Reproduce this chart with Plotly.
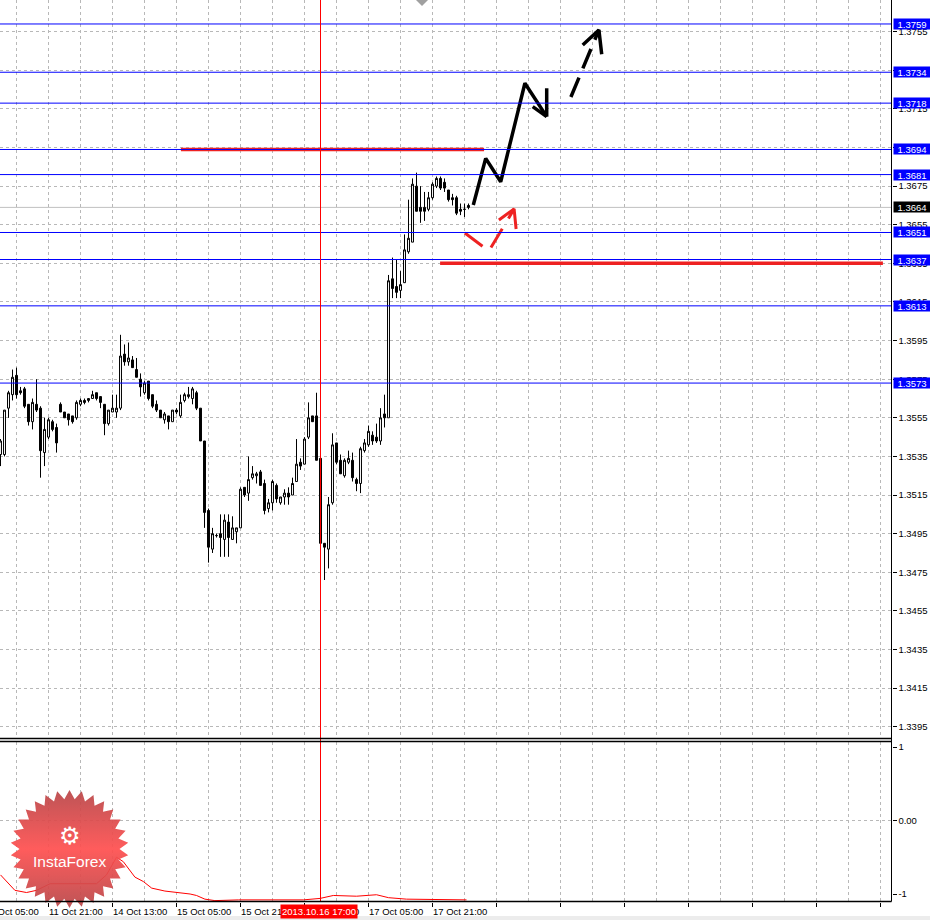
import base64
import numpy as np
import plotly.graph_objects as go

# ---- data --------------------------------------------------------------
# EURUSD H1, bar 0 = 11 Oct 09:00, bar 80 = 2013.10.16 17:00
bar_open = [
    1.3536, 1.3536, 1.3560, 1.3567, 1.3577, 1.3569, 1.3570, 1.3562, 1.3553, 1.3562,
    1.3560, 1.3537, 1.3545, 1.3553, 1.3550, 1.3562, 1.3558, 1.3557, 1.3556, 1.3555,
    1.3562, 1.3564, 1.3564, 1.3565, 1.3568, 1.3566, 1.3562, 1.3552, 1.3558, 1.3558,
    1.3560, 1.3588, 1.3584, 1.3585, 1.3580, 1.3575, 1.3568, 1.3574, 1.3567, 1.3562,
    1.3559, 1.3554, 1.3556, 1.3553, 1.3559, 1.3556, 1.3564, 1.3566, 1.3565, 1.3568,
    1.3560, 1.3543, 1.3507, 1.3487, 1.3494, 1.3495, 1.3492, 1.3501, 1.3492, 1.3496,
    1.3498, 1.3519, 1.3516, 1.3524, 1.3525, 1.3527, 1.3521, 1.3508, 1.3511, 1.3520,
    1.3511, 1.3514, 1.3516, 1.3515, 1.3522, 1.3532, 1.3531, 1.3545, 1.3556, 1.3556,
    1.3534, 1.3490, 1.3487, 1.3511, 1.3542, 1.3533, 1.3525, 1.3532, 1.3533, 1.3523,
    1.3521, 1.3538, 1.3541, 1.3546, 1.3545, 1.3543, 1.3557, 1.3555, 1.3627, 1.3623,
    1.3621, 1.3625, 1.3641, 1.3646, 1.3675, 1.3664, 1.3664, 1.3663, 1.3669, 1.3675,
    1.3679, 1.3677, 1.3673, 1.3669, 1.3669, 1.3663, 1.3663, 1.3665,
]
bar_high = [
    1.3544, 1.3559, 1.3569, 1.3580, 1.3581, 1.3571, 1.3571, 1.3562, 1.3565, 1.3575,
    1.3561, 1.3555, 1.3555, 1.3554, 1.3552, 1.3563, 1.3558, 1.3557, 1.3556, 1.3564,
    1.3565, 1.3565, 1.3565, 1.3569, 1.3568, 1.3566, 1.3562, 1.3559, 1.3567, 1.3567,
    1.3598, 1.3593, 1.3594, 1.3587, 1.3586, 1.3578, 1.3574, 1.3574, 1.3567, 1.3564,
    1.3559, 1.3558, 1.3556, 1.3559, 1.3560, 1.3567, 1.3568, 1.3571, 1.3571, 1.3569,
    1.3560, 1.3543, 1.3508, 1.3498, 1.3495, 1.3505, 1.3505, 1.3505, 1.3504, 1.3498,
    1.3519, 1.3519, 1.3535, 1.3530, 1.3527, 1.3528, 1.3523, 1.3513, 1.3523, 1.3521,
    1.3514, 1.3518, 1.3519, 1.3524, 1.3544, 1.3534, 1.3545, 1.3563, 1.3556, 1.3568,
    1.3535, 1.3490, 1.3514, 1.3547, 1.3542, 1.3536, 1.3534, 1.3538, 1.3537, 1.3524,
    1.3540, 1.3544, 1.3551, 1.3548, 1.3552, 1.3560, 1.3567, 1.3629, 1.3638, 1.3637,
    1.3631, 1.3650, 1.3668, 1.3679, 1.3682, 1.3675, 1.3672, 1.3672, 1.3677, 1.3680,
    1.3680, 1.3679, 1.3673, 1.3671, 1.3670, 1.3666, 1.3666, 1.3666,
]
bar_low = [
    1.3530, 1.3535, 1.3555, 1.3564, 1.3565, 1.3567, 1.3560, 1.3551, 1.3549, 1.3558,
    1.3524, 1.3530, 1.3544, 1.3548, 1.3537, 1.3558, 1.3555, 1.3551, 1.3552, 1.3554,
    1.3561, 1.3562, 1.3563, 1.3565, 1.3564, 1.3560, 1.3546, 1.3551, 1.3558, 1.3555,
    1.3559, 1.3582, 1.3582, 1.3581, 1.3576, 1.3566, 1.3567, 1.3564, 1.3560, 1.3558,
    1.3555, 1.3552, 1.3549, 1.3553, 1.3557, 1.3555, 1.3563, 1.3565, 1.3562, 1.3559,
    1.3543, 1.3498, 1.3480, 1.3485, 1.3493, 1.3483, 1.3483, 1.3483, 1.3492, 1.3490,
    1.3498, 1.3514, 1.3512, 1.3523, 1.3521, 1.3520, 1.3505, 1.3506, 1.3507, 1.3511,
    1.3510, 1.3510, 1.3510, 1.3515, 1.3522, 1.3528, 1.3531, 1.3544, 1.3553, 1.3533,
    1.3486, 1.3471, 1.3477, 1.3510, 1.3531, 1.3526, 1.3524, 1.3531, 1.3522, 1.3517,
    1.3516, 1.3537, 1.3540, 1.3541, 1.3542, 1.3541, 1.3550, 1.3555, 1.3617, 1.3617,
    1.3617, 1.3625, 1.3640, 1.3646, 1.3662, 1.3656, 1.3657, 1.3662, 1.3668, 1.3674,
    1.3673, 1.3672, 1.3667, 1.3665, 1.3660, 1.3660, 1.3659, 1.3663,
]
bar_close = [
    1.3543, 1.3559, 1.3568, 1.3576, 1.3567, 1.3568, 1.3561, 1.3553, 1.3563, 1.3559,
    1.3538, 1.3549, 1.3554, 1.3549, 1.3542, 1.3558, 1.3555, 1.3554, 1.3553, 1.3563,
    1.3564, 1.3563, 1.3565, 1.3567, 1.3565, 1.3563, 1.3552, 1.3559, 1.3560, 1.3560,
    1.3587, 1.3584, 1.3586, 1.3581, 1.3576, 1.3571, 1.3573, 1.3565, 1.3561, 1.3559,
    1.3555, 1.3557, 1.3553, 1.3559, 1.3558, 1.3563, 1.3567, 1.3567, 1.3570, 1.3560,
    1.3543, 1.3506, 1.3488, 1.3495, 1.3494, 1.3493, 1.3502, 1.3493, 1.3498, 1.3498,
    1.3518, 1.3515, 1.3523, 1.3526, 1.3526, 1.3520, 1.3507, 1.3511, 1.3522, 1.3513,
    1.3514, 1.3516, 1.3514, 1.3521, 1.3531, 1.3530, 1.3544, 1.3555, 1.3553, 1.3533,
    1.3490, 1.3488, 1.3510, 1.3541, 1.3532, 1.3526, 1.3533, 1.3534, 1.3524, 1.3521,
    1.3539, 1.3542, 1.3548, 1.3543, 1.3543, 1.3555, 1.3555, 1.3626, 1.3622, 1.3620,
    1.3624, 1.3642, 1.3648, 1.3676, 1.3662, 1.3662, 1.3662, 1.3669, 1.3676, 1.3679,
    1.3674, 1.3674, 1.3668, 1.3668, 1.3661, 1.3662, 1.3663, 1.3664,
]
bar_index = list(range(len(bar_close)))

# time scale labels (bar index -> text)
time_label_bars = [-4, 12, 28, 44, 60, 76, 92, 108]
time_labels = ["11 Oct 05:00", "11 Oct 21:00", "14 Oct 13:00", "15 Oct 05:00",
               "15 Oct 21:00", "16 Oct 13:00", "17 Oct 05:00", "17 Oct 21:00"]
cursor_bar = 80
cursor_label = "2013.10.16 17:00"

# horizontal levels
blue_levels = [1.3759, 1.3734, 1.3718, 1.3694, 1.3681, 1.3651, 1.3637, 1.3613, 1.3573]
bid_price = 1.3664

# red support / resistance segments: (bar from, bar to, price)
red_segments = [(45.1, 120.9, 1.3694), (109.9, 220.6, 1.3635)]

# forecast arrows (bar, price)
main_path_x = [118.2, 121.3, 125.05, 131.1, 136.55]
main_path_y = [1.36652, 1.36894, 1.36773, 1.37283, 1.37110]
main_head_x = [136.55, 136.55, None, 133.05, 136.55]
main_head_y = [1.37257, 1.37110, None, 1.37162, 1.37110]
alt_path_x = [142.6, 149.6]
alt_path_y = [1.37212, 1.37559]
alt_head_x = [145.55, 149.6, 150.3]
alt_head_y = [1.37481, 1.37559, 1.37433]
red_path_x = [116.1, 122.1, 128.4]
red_path_y = [1.36507, 1.36414, 1.36632]
red_head_x = [124.6, 128.4, 128.9]
red_head_y = [1.36575, 1.36632, 1.36528]

# oscillator sub-window
ind_bars = [0, 1.5, 3.6, 6.5, 9, 12.4, 24, 26.5, 29, 30.7, 32, 33.6, 35.7, 37.8, 41.1,
            43.2, 47.4, 49, 51.1, 53.6, 59.5, 75.7, 79.9, 83.2, 89, 94, 97, 101.5, 116.5]
ind_vals = [-0.74, -0.83, -0.95, -0.98, -0.95, -0.86, -0.86, -0.74, -0.50, -0.56, -0.65,
            -0.77, -0.83, -0.92, -0.96, -0.97, -1.00, -1.02, -1.07, -1.09, -1.08, -1.08,
            -1.06, -1.02, -1.03, -1.01, -1.05, -1.07, -1.08]

# ---- geometry (pixels of the 930x920 page) ------------------------------
W, H = 930, 920
X_RIGHT = 891.5          # price scale border
MAIN_BOTTOM = 738.5
SUB_TOP, SUB_BOTTOM = 741.5, 901.5
FONT = "Liberation Sans"
GRID = "#b8b8b8"
BLUE = "#0000ff"


def px(x):
    return x / W


def py(y):
    return 1 - y / H


def bar_px(b):
    return 0.5 + 4 * b


fig = go.Figure()

fig.add_trace(go.Candlestick(
    x=bar_index, open=bar_open, high=bar_high, low=bar_low, close=bar_close,
    increasing=dict(line=dict(color="black", width=1), fillcolor="white"),
    decreasing=dict(line=dict(color="black", width=1), fillcolor="black"),
    whiskerwidth=0, showlegend=False, hoverinfo="skip",
    xaxis="x", yaxis="y",
))

# oscillator
fig.add_trace(go.Scatter(
    x=ind_bars, y=ind_vals, mode="lines", line=dict(color="#ff0000", width=1),
    showlegend=False, hoverinfo="skip", xaxis="x", yaxis="y2",
))

# red horizontal segments
for b0, b1, p in red_segments:
    fig.add_trace(go.Scatter(
        x=[b0, b1], y=[p, p], mode="lines", line=dict(color="#ee2222", width=3.5),
        showlegend=False, hoverinfo="skip",
    ))

# forecast arrows
arrow_style = dict(mode="lines", showlegend=False, hoverinfo="skip")
fig.add_trace(go.Scatter(x=main_path_x, y=main_path_y,
                         line=dict(color="black", width=3.5), **arrow_style))
fig.add_trace(go.Scatter(x=main_head_x, y=main_head_y,
                         line=dict(color="black", width=3.5), **arrow_style))
fig.add_trace(go.Scatter(x=alt_path_x, y=alt_path_y,
                         line=dict(color="black", width=3.5, dash="21px,10px"), **arrow_style))
fig.add_trace(go.Scatter(x=alt_head_x, y=alt_head_y,
                         line=dict(color="black", width=3.5), **arrow_style))
fig.add_trace(go.Scatter(x=red_path_x, y=red_path_y,
                         line=dict(color="#ee2222", width=3, dash="22px,12px"), **arrow_style))
fig.add_trace(go.Scatter(x=red_head_x, y=red_head_y,
                         line=dict(color="#ee2222", width=3), **arrow_style))

shapes = []
# levels across the chart
for lv in blue_levels:
    shapes.append(dict(type="line", xref="x domain", x0=0, x1=1, yref="y", y0=lv, y1=lv,
                       line=dict(color=BLUE, width=1), layer="above"))
shapes.append(dict(type="line", xref="x domain", x0=0, x1=1, yref="y", y0=bid_price,
                   y1=bid_price, line=dict(color="#c0c0c0", width=1), layer="below"))
# zero line of the oscillator
shapes.append(dict(type="line", xref="x domain", x0=0, x1=1, yref="y2", y0=0, y1=0,
                   line=dict(color=GRID, width=1, dash="3px,3px"), layer="below"))
# vertical cursor
shapes.append(dict(type="line", xref="x", x0=cursor_bar, x1=cursor_bar, yref="paper",
                   y0=py(SUB_BOTTOM), y1=1, line=dict(color="#ff0000", width=1)))
# panel frames
for y in (MAIN_BOTTOM, SUB_TOP, SUB_BOTTOM):
    shapes.append(dict(type="line", xref="paper", yref="paper", x0=0, x1=px(X_RIGHT),
                       y0=py(y), y1=py(y), line=dict(color="black", width=1.5)))
shapes.append(dict(type="line", xref="paper", yref="paper", x0=px(X_RIGHT), x1=px(X_RIGHT),
                   y0=py(SUB_BOTTOM), y1=1, line=dict(color="black", width=1)))
# chart-shift marker and bottom strip
shapes.append(dict(type="path", xref="paper", yref="paper",
                   path=f"M {px(416)},{py(0)} L {px(428)},{py(0)} L {px(422)},{py(6)} Z",
                   fillcolor="#a0a0a0", line=dict(width=0)))
shapes.append(dict(type="rect", xref="paper", yref="paper", x0=0, x1=1, y0=0, y1=py(916),
                   fillcolor="#ececec", line=dict(width=0)))

annotations = []
# price scale boxes
for lv in blue_levels:
    annotations.append(dict(xref="paper", x=px(892.5), xanchor="left", yref="y", y=lv,
                            yanchor="middle", text=f"{lv:.4f}", showarrow=False, bgcolor=BLUE,
                            font=dict(family=FONT, size=9.5, color="white"),
                            width=36, height=10, borderpad=0, align="center"))
annotations.append(dict(xref="paper", x=px(892.5), xanchor="left", yref="y", y=bid_price,
                        yanchor="middle", text=f"{bid_price:.4f}", showarrow=False,
                        bgcolor="black", font=dict(family=FONT, size=9.5, color="white"),
                        width=36, height=10, borderpad=0, align="center"))
# time scale
for b, t in zip(time_label_bars, time_labels):
    annotations.append(dict(xref="paper", x=px(bar_px(b) - 1.5), xanchor="left",
                            yref="paper", y=py(911), yanchor="middle", text=t,
                            showarrow=False, font=dict(family=FONT, size=9.5, color="black")))
annotations.append(dict(xref="x", x=cursor_bar, xanchor="center", yref="paper", y=py(911),
                        yanchor="middle", text=cursor_label, showarrow=False,
                        bgcolor="#ff0000", borderpad=1, xshift=-2,
                        font=dict(family=FONT, size=9.5, color="white")))
# logo text
annotations.append(dict(xref="paper", x=px(69.5), xanchor="center", yref="paper", y=py(836),
                        yanchor="middle", text="⚙", showarrow=False,
                        font=dict(family="DejaVu Sans", size=24, color="white")))
annotations.append(dict(xref="paper", x=px(69.5), xanchor="center", yref="paper", y=py(861),
                        yanchor="middle", text="InstaForex", showarrow=False,
                        font=dict(family=FONT, size=15.5, color="white")))

# starburst badge behind the logo text
n_tips = 30
pts = []
for k in range(2 * n_tips):
    r = 59 if k % 2 == 0 else 50
    a = np.pi * k / n_tips - np.pi / 2
    pts.append(f"{60 + r * np.cos(a):.1f},{60 + r * np.sin(a):.1f}")
svg = ('<svg xmlns="http://www.w3.org/2000/svg" width="120" height="120" viewBox="0 0 120 120">'
       '<defs><linearGradient id="g" x1="0" y1="0" x2="0" y2="1">'
       '<stop offset="0" stop-color="#b9484a"/><stop offset="0.5" stop-color="#ff5050"/>'
       '<stop offset="1" stop-color="#b9484a"/></linearGradient></defs>'
       f'<polygon points="{" ".join(pts)}" fill="url(#g)"/></svg>')
badge = "data:image/svg+xml;base64," + base64.b64encode(svg.encode()).decode()

fig.update_layout(
    width=W, height=H,
    margin=dict(l=0, r=0, t=0, b=0),
    paper_bgcolor="white", plot_bgcolor="white",
    showlegend=False, hovermode=False,
    font=dict(family=FONT, size=9.5, color="black"),
    xaxis=dict(
        domain=[0, px(X_RIGHT)], anchor="y2",
        range=[-0.125, (X_RIGHT - 0.5) / 4],
        rangeslider=dict(visible=False),
        tick0=12, dtick=16, ticks="outside", ticklen=4, tickcolor="black",
        showticklabels=False,
        showgrid=True, gridcolor=GRID, griddash="3px,3px", gridwidth=1,
        minor=dict(tick0=4, dtick=8, showgrid=True, gridcolor=GRID, griddash="3px,3px",
                   ticks=""),
        zeroline=False, showline=False,
    ),
    yaxis=dict(
        domain=[py(MAIN_BOTTOM), 1], anchor="x", side="right",
        range=[1.33889, 1.377142],
        tick0=1.3395, dtick=0.002, tickformat=".4f",
        ticks="outside", ticklen=4, tickcolor="black",
        showgrid=True, gridcolor=GRID, griddash="3px,3px", gridwidth=1,
        zeroline=False, showline=False,
        tickfont=dict(family=FONT, size=9.5),
    ),
    yaxis2=dict(
        domain=[py(SUB_BOTTOM), py(SUB_TOP)], anchor="x", side="right",
        range=[-1.102, 1.0748],
        tickvals=[-1, 0, 1], ticktext=["-1", "0.00", "1"],
        ticks="outside", ticklen=4, tickcolor="black",
        showgrid=False, zeroline=False, showline=False,
        tickfont=dict(family=FONT, size=9.5),
    ),
    shapes=shapes,
    annotations=annotations,
    images=[dict(source=badge, xref="paper", yref="paper", x=px(69.5 - 60), y=py(849 - 60),
                 sizex=120 / W, sizey=120 / H, xanchor="left", yanchor="top",
                 sizing="stretch", layer="above", opacity=0.93)],
)

fig.write_html("out.html", config={"displayModeBar": False},
               post_script="document.body.style.margin='0px';"
                           "document.body.style.overflow='hidden';")
